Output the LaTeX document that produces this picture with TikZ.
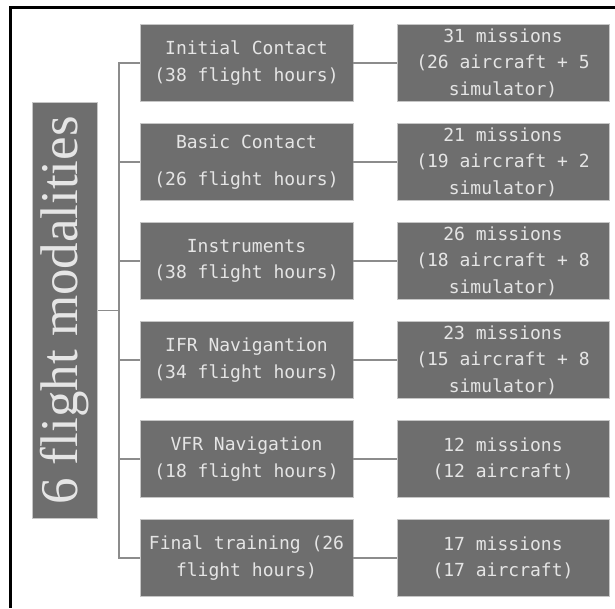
\documentclass[tikz,border=0pt]{standalone}
\usepackage{fontspec}
\setmainfont{Liberation Serif}
\setmonofont{DejaVu Sans Mono}
\usepackage{xcolor}
\definecolor{boxgray}{HTML}{6E6E6E}
\definecolor{linegray}{HTML}{8C8C8C}

\begin{document}
\begin{tikzpicture}[x=1pt,y=-1pt,
  modebox/.style={draw=gray!45, line width=0.8pt, fill=boxgray, text=white!90!black,
    font=\ttfamily\fontsize{18}{26.5}\selectfont, align=center,
    minimum width=213pt, minimum height=77pt, inner sep=0pt},
  link/.style={draw=linegray, line width=1.6pt}]
\useasboundingbox (0,0) rectangle (615,608);
\draw[line width=3pt] (615,7) -- (10,7) -- (10,608);
\node[modebox, rotate=90, minimum width=416pt, minimum height=65pt,
  font=\rmfamily\fontsize{53}{60}\selectfont] (title) at (65,310.5) {6 flight modalities};
\coordinate (hub) at (119,310.5);
\foreach \i/\hrs/\mis in {
    1/{Initial Contact\\(38 flight hours)}/{31 missions\\(26 aircraft + 5\\simulator)},
    2/{Basic Contact\\[10.5pt](26 flight hours)}/{21 missions\\(19 aircraft + 2\\simulator)},
    3/{Instruments\\(38 flight hours)}/{26 missions\\(18 aircraft + 8\\simulator)},
    4/{IFR Navigantion\\(34 flight hours)}/{23 missions\\(15 aircraft + 8\\simulator)},
    5/{VFR Navigation\\(18 flight hours)}/{12 missions\\(12 aircraft)},
    6/{Final training (26\\flight hours)}/{17 missions\\(17 aircraft)}}
{
  \pgfmathsetmacro{\rowy}{63+(\i-1)*99}
  \node[modebox] (m\i) at (246.5,\rowy) {\hrs};
  \node[modebox, minimum width=212pt] (r\i) at (503,\rowy) {\mis};
  \draw[link] (m\i) -- (r\i);
}
% tree on the left
\draw[link] (title.south) -- (hub);
\draw[link] (m1.west) -| (hub) |- (m6.west);
\foreach \i in {2,...,5}
  \draw[link] (m\i.west) -- (m\i.west -| hub);
\end{tikzpicture}
\end{document}
